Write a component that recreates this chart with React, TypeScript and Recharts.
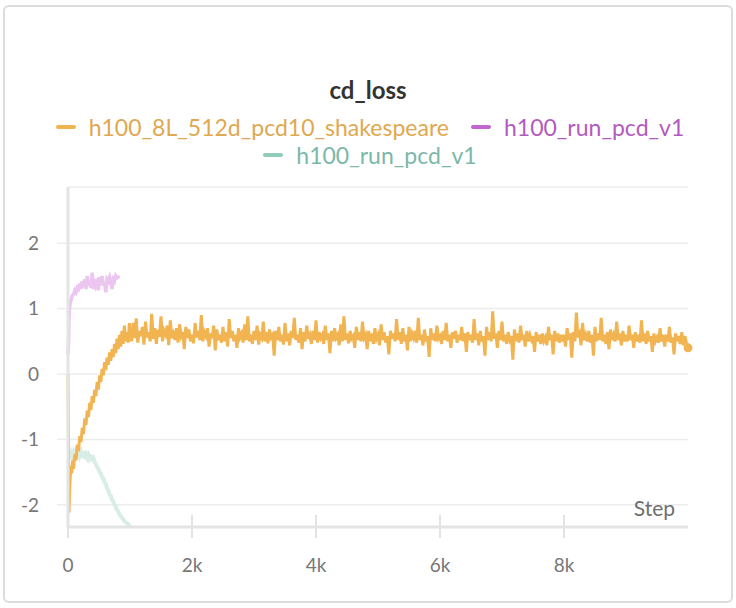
import { LineChart, Line, XAxis, YAxis, CartesianGrid, Label } from "recharts";

// main run (orange): early descent/recovery, then the long noisy plateau
const mainSteps = [
    0, 15, 30, 45, 60, 75, 90, 110, 130, 150, 170, 190, 210, 230, 250, 270, 290, 310, 330, 350,
    370, 390, 410, 430, 450, 470, 490, 510, 530, 550, 570, 590, 610, 630, 650, 670, 690, 710, 730, 750,
    770, 790, 810, 830, 850, 870, 890, 910, 930, 950, 970, 990,
    1000, 1025, 1050, 1075, 1100, 1125, 1150, 1175, 1200, 1225, 1250, 1275, 1300, 1325, 1350, 1375, 1400, 1425, 1450, 1475,
    1500, 1525, 1550, 1575, 1600, 1625, 1650, 1675, 1700, 1725, 1750, 1775, 1800, 1825, 1850, 1875, 1900, 1925, 1950, 1975,
    2000, 2025, 2050, 2075, 2100, 2125, 2150, 2175, 2200, 2225, 2250, 2275, 2300, 2325, 2350, 2375, 2400, 2425, 2450, 2475,
    2500, 2525, 2550, 2575, 2600, 2625, 2650, 2675, 2700, 2725, 2750, 2775, 2800, 2825, 2850, 2875, 2900, 2925, 2950, 2975,
    3000, 3025, 3050, 3075, 3100, 3125, 3150, 3175, 3200, 3225, 3250, 3275, 3300, 3325, 3350, 3375, 3400, 3425, 3450, 3475,
    3500, 3525, 3550, 3575, 3600, 3625, 3650, 3675, 3700, 3725, 3750, 3775, 3800, 3825, 3850, 3875, 3900, 3925, 3950, 3975,
    4000, 4025, 4050, 4075, 4100, 4125, 4150, 4175, 4200, 4225, 4250, 4275, 4300, 4325, 4350, 4375, 4400, 4425, 4450, 4475,
    4500, 4525, 4550, 4575, 4600, 4625, 4650, 4675, 4700, 4725, 4750, 4775, 4800, 4825, 4850, 4875, 4900, 4925, 4950, 4975,
    5000, 5025, 5050, 5075, 5100, 5125, 5150, 5175, 5200, 5225, 5250, 5275, 5300, 5325, 5350, 5375, 5400, 5425, 5450, 5475,
    5500, 5525, 5550, 5575, 5600, 5625, 5650, 5675, 5700, 5725, 5750, 5775, 5800, 5825, 5850, 5875, 5900, 5925, 5950, 5975,
    6000, 6025, 6050, 6075, 6100, 6125, 6150, 6175, 6200, 6225, 6250, 6275, 6300, 6325, 6350, 6375, 6400, 6425, 6450, 6475,
    6500, 6525, 6550, 6575, 6600, 6625, 6650, 6675, 6700, 6725, 6750, 6775, 6800, 6825, 6850, 6875, 6900, 6925, 6950, 6975,
    7000, 7025, 7050, 7075, 7100, 7125, 7150, 7175, 7200, 7225, 7250, 7275, 7300, 7325, 7350, 7375, 7400, 7425, 7450, 7475,
    7500, 7525, 7550, 7575, 7600, 7625, 7650, 7675, 7700, 7725, 7750, 7775, 7800, 7825, 7850, 7875, 7900, 7925, 7950, 7975,
    8000, 8025, 8050, 8075, 8100, 8125, 8150, 8175, 8200, 8225, 8250, 8275, 8300, 8325, 8350, 8375, 8400, 8425, 8450, 8475,
    8500, 8525, 8550, 8575, 8600, 8625, 8650, 8675, 8700, 8725, 8750, 8775, 8800, 8825, 8850, 8875, 8900, 8925, 8950, 8975,
    9000, 9025, 9050, 9075, 9100, 9125, 9150, 9175, 9200, 9225, 9250, 9275, 9300, 9325, 9350, 9375, 9400, 9425, 9450, 9475,
    9500, 9525, 9550, 9575, 9600, 9625, 9650, 9675, 9700, 9725, 9750, 9775, 9800, 9825, 9850, 9875, 9900, 9925, 9950, 9975,
    10000,
];
const mainLoss = [
    0, -2.12, -1.7, -1.4, -1.52, -1.32, -1.45, -1.22, -1.32, -1.08, -1.18, -0.95, -1.04, -0.82, -0.92, -0.68, -0.78, -0.56, -0.66, -0.44,
    -0.55, -0.34, -0.44, -0.24, -0.34, -0.12, -0.24, -0.02, -0.12, 0.08, -0.02, 0.18, 0.06, 0.25, 0.14, 0.33, 0.2, 0.38, 0.26, 0.46,
    0.32, 0.54, 0.38, 0.6, 0.42, 0.66, 0.46, 0.74, 0.5, 0.64, 0.48, 0.78,
    0.62, 0.5, 0.78, 0.55, 0.85, 0.48, 0.66, 0.58, 0.72, 0.45, 0.8, 0.56, 0.64, 0.5, 0.92, 0.54, 0.7, 0.46, 0.68, 0.57,
    0.88, 0.5, 0.66, 0.6, 0.74, 0.44, 0.82, 0.55, 0.62, 0.52, 0.7, 0.48, 0.76, 0.58, 0.64, 0.38, 0.72, 0.55, 0.68, 0.5,
    0.6, 0.47, 0.78, 0.56, 0.66, 0.52, 0.9, 0.5, 0.64, 0.58, 0.7, 0.42, 0.62, 0.55, 0.74, 0.36, 0.68, 0.52, 0.6, 0.48,
    0.72, 0.5, 0.64, 0.42, 0.84, 0.55, 0.66, 0.5, 0.6, 0.4, 0.7, 0.56, 0.62, 0.48, 0.76, 0.52, 0.88, 0.5, 0.6, 0.46,
    0.66, 0.52, 0.74, 0.45, 0.6, 0.55, 0.8, 0.5, 0.64, 0.47, 0.68, 0.56, 0.6, 0.28, 0.66, 0.52, 0.72, 0.5, 0.6, 0.45,
    0.78, 0.5, 0.62, 0.44, 0.66, 0.55, 0.86, 0.52, 0.6, 0.48, 0.7, 0.38, 0.64, 0.5, 0.74, 0.54, 0.6, 0.46, 0.66, 0.52,
    0.82, 0.48, 0.64, 0.55, 0.6, 0.46, 0.74, 0.52, 0.62, 0.32, 0.66, 0.5, 0.7, 0.55, 0.6, 0.44, 0.76, 0.5, 0.88, 0.52,
    0.62, 0.47, 0.66, 0.54, 0.58, 0.4, 0.72, 0.52, 0.64, 0.5, 0.8, 0.55, 0.6, 0.38, 0.66, 0.5, 0.62, 0.46, 0.7, 0.54,
    0.6, 0.44, 0.76, 0.52, 0.64, 0.48, 0.58, 0.3, 0.66, 0.54, 0.62, 0.5, 0.84, 0.52, 0.64, 0.46, 0.7, 0.5, 0.6, 0.36,
    0.72, 0.5, 0.62, 0.55, 0.66, 0.48, 0.86, 0.52, 0.6, 0.44, 0.68, 0.5, 0.58, 0.26, 0.7, 0.52, 0.62, 0.5, 0.74, 0.54,
    0.58, 0.46, 0.66, 0.52, 0.78, 0.5, 0.6, 0.4, 0.64, 0.54, 0.66, 0.48, 0.6, 0.52, 0.72, 0.5, 0.62, 0.34, 0.64, 0.52,
    0.6, 0.48, 0.84, 0.52, 0.62, 0.44, 0.66, 0.5, 0.58, 0.28, 0.72, 0.52, 0.64, 0.5, 0.96, 0.54, 0.62, 0.4, 0.66, 0.52,
    0.8, 0.5, 0.6, 0.46, 0.64, 0.52, 0.58, 0.22, 0.68, 0.5, 0.62, 0.48, 0.74, 0.52, 0.6, 0.42, 0.66, 0.5, 0.6, 0.52,
    0.58, 0.34, 0.64, 0.5, 0.6, 0.46, 0.62, 0.5, 0.56, 0.44, 0.72, 0.52, 0.6, 0.3, 0.66, 0.5, 0.62, 0.48, 0.6, 0.5,
    0.6, 0.42, 0.7, 0.52, 0.62, 0.25, 0.64, 0.5, 0.94, 0.56, 0.62, 0.44, 0.78, 0.52, 0.6, 0.5, 0.66, 0.48, 0.6, 0.28,
    0.72, 0.5, 0.62, 0.52, 0.86, 0.5, 0.6, 0.46, 0.64, 0.38, 0.68, 0.52, 0.6, 0.5, 0.8, 0.52, 0.62, 0.44, 0.66, 0.5,
    0.6, 0.5, 0.74, 0.52, 0.6, 0.4, 0.64, 0.5, 0.6, 0.48, 0.82, 0.5, 0.62, 0.46, 0.66, 0.5, 0.58, 0.34, 0.62, 0.5,
    0.56, 0.48, 0.7, 0.5, 0.6, 0.42, 0.6, 0.5, 0.72, 0.48, 0.56, 0.3, 0.62, 0.5, 0.58, 0.46, 0.64, 0.44, 0.58, 0.48,
    0.4,
];

// h100_run_pcd_v1 (pink, faded)
const pinkSteps = [
    0, 8, 15, 22, 30, 40, 55, 70, 90, 110, 130, 150, 170, 190, 210, 230, 250, 270, 290, 310,
    330, 350, 370, 390, 410, 430, 450, 470, 490, 510, 530, 550, 570, 590, 610, 630, 650, 670, 690, 710,
    730, 750, 770, 790, 810, 820,
];
const pinkLoss = [
    0.3, 0.45, 0.8, 0.98, 1.05, 1.1, 1.15, 1.2, 1.22, 1.28, 1.25, 1.32, 1.3, 1.38, 1.3, 1.42, 1.33, 1.45, 1.3, 1.5,
    1.35, 1.42, 1.32, 1.55, 1.3, 1.45, 1.35, 1.4, 1.28, 1.48, 1.36, 1.5, 1.35, 1.4, 1.25, 1.45, 1.42, 1.48, 1.4, 1.3,
    1.45, 1.42, 1.5, 1.47, 1.48, 1.46,
];

// h100_run_pcd_v1 (teal, faded)
const tealSteps = [
    30, 50, 70, 90, 110, 130, 150, 170, 190, 210, 230, 250, 270, 290, 310, 330, 350, 370, 390, 410,
    430, 450, 470, 490, 510, 530, 550, 570, 590, 610, 630, 650, 670, 690, 710, 730, 750, 770, 790, 810,
    830, 850, 870, 890, 910, 930, 950, 970, 990, 1010,
];
const tealLoss = [
    -1.3, -1.22, -1.28, -1.2, -1.25, -1.18, -1.22, -1.15, -1.25, -1.2, -1.28, -1.18, -1.25, -1.22, -1.28, -1.24, -1.3, -1.27, -1.3, -1.28,
    -1.35, -1.38, -1.42, -1.45, -1.5, -1.52, -1.58, -1.6, -1.66, -1.68, -1.75, -1.78, -1.84, -1.86, -1.92, -1.95, -2.0, -2.03, -2.08, -2.1,
    -2.15, -2.17, -2.2, -2.22, -2.25, -2.27, -2.28, -2.3, -2.32, -2.33,
];

const xTicks = [0, 2000, 4000, 6000, 8000];
const yTicks = [-2, -1, 0, 1, 2];

const legendRows = [
    [
        { name: "h100_8L_512d_pcd10_shakespeare", text: "#e0a84f", swatch: "#f0b450" },
        { name: "h100_run_pcd_v1", text: "#b45abf", swatch: "#c466cf" },
    ],
    [{ name: "h100_run_pcd_v1", text: "#7cb8a8", swatch: "#91cbbb" }],
];

const toRows = (steps: number[], vals: number[]) => steps.map((s, i) => ({ step: s, value: vals[i] }));
const mainData = toRows(mainSteps, mainLoss);
const pinkData = toRows(pinkSteps, pinkLoss);
const tealData = toRows(tealSteps, tealLoss);

const FONT = "'Source Sans Pro', Lato, sans-serif";

function fmtStep(v: number) {
    return v === 0 ? "0" : `${v / 1000}k`;
}

function StepTick({ x, y, payload }: any) {
    // y sits tickSize (11) below the axis line
    return (
        <g>
            <line x1={x} x2={x} y1={y - 23} y2={y} stroke="#e3e3e3" strokeWidth={2} />
            <text x={x} y={y + 27} dy="0.35em" textAnchor="middle" fill="#777" fontSize={19} fontFamily={FONT}>
                {fmtStep(payload.value)}
            </text>
        </g>
    );
}

function EndDot(props: any) {
    const { cx, cy, index } = props;
    if (index !== mainData.length - 1) return <g key={index} />;
    return <circle key={index} cx={cx} cy={cy} r={4.5} fill="#f0b450" />;
}

export default function App() {
    return (
        <div style={{ position: "absolute", left: 0, top: 0, width: 736, height: 608, background: "#fff", fontFamily: FONT }}>
            <div
                style={{
                    position: "absolute",
                    left: 3,
                    top: 5,
                    width: 730,
                    height: 598,
                    border: "2px solid #dcdcdc",
                    borderRadius: 6,
                    boxSizing: "border-box",
                }}
            />
            <div
                style={{
                    position: "absolute",
                    left: 0,
                    top: 75,
                    width: 736,
                    textAlign: "center",
                    fontSize: 24,
                    fontWeight: 700,
                    lineHeight: "30px",
                    color: "#333",
                }}
            >
                cd_loss
            </div>
            {legendRows.map((row, r) => (
                <div
                    key={r}
                    style={{
                        position: "absolute",
                        left: 2,
                        top: 113 + r * 28,
                        width: 736,
                        height: 28,
                        display: "flex",
                        justifyContent: "center",
                        alignItems: "center",
                        gap: 22,
                        fontSize: 23,
                    }}
                >
                    {row.map((item, i) => (
                        <div key={i} style={{ display: "flex", alignItems: "center" }}>
                            <span
                                style={{
                                    display: "inline-block",
                                    width: 20,
                                    height: 4,
                                    borderRadius: 2,
                                    background: item.swatch,
                                    marginRight: 13,
                                }}
                            />
                            <span style={{ color: item.text }}>{item.name}</span>
                        </div>
                    ))}
                </div>
            ))}
            <div style={{ position: "absolute", left: 0, top: 0 }}>
                <LineChart width={736} height={608} margin={{ top: 187, right: 48, bottom: 0, left: 0 }}>
                    <CartesianGrid vertical={false} stroke="#ececec" strokeWidth={1.5} />
                    <XAxis
                        type="number"
                        dataKey="step"
                        domain={[0, 10000]}
                        ticks={xTicks}
                        height={81}
                        axisLine={{ stroke: "#e4e4e4", strokeWidth: 3 }}
                        tickLine={false}
                        tickSize={11}
                        tickMargin={0}
                        tick={<StepTick />}
                    >
                        <Label
                            content={({ viewBox }: any) => (
                                <text
                                    x={viewBox.x + viewBox.width - 13}
                                    y={viewBox.y - 18}
                                    dy="0.35em"
                                    textAnchor="end"
                                    fill="#6f6f6f"
                                    fontSize={21}
                                    fontFamily={FONT}
                                >
                                    Step
                                </text>
                            )}
                        />
                    </XAxis>
                    <YAxis
                        type="number"
                        domain={[-2.34, 2.86]}
                        ticks={yTicks}
                        width={68}
                        axisLine={{ stroke: "#e4e4e4", strokeWidth: 3 }}
                        tickLine={{ stroke: "#ececec", strokeWidth: 1.5 }}
                        tickSize={11}
                        tickMargin={18}
                        tick={{ fill: "#777", fontSize: 19, fontFamily: FONT }}
                    />
                    <Line
                        data={tealData}
                        dataKey="value"
                        type="linear"
                        stroke="#d9ede7"
                        strokeWidth={4}
                        dot={false}
                        isAnimationActive={false}
                    />
                    <Line
                        data={pinkData}
                        dataKey="value"
                        type="linear"
                        stroke="#ecc6f0"
                        strokeWidth={3.5}
                        dot={false}
                        isAnimationActive={false}
                    />
                    <Line
                        data={mainData}
                        dataKey="value"
                        type="linear"
                        stroke="#f2b450"
                        strokeWidth={3}
                        dot={EndDot}
                        isAnimationActive={false}
                    />
                </LineChart>
            </div>
        </div>
    );
}
